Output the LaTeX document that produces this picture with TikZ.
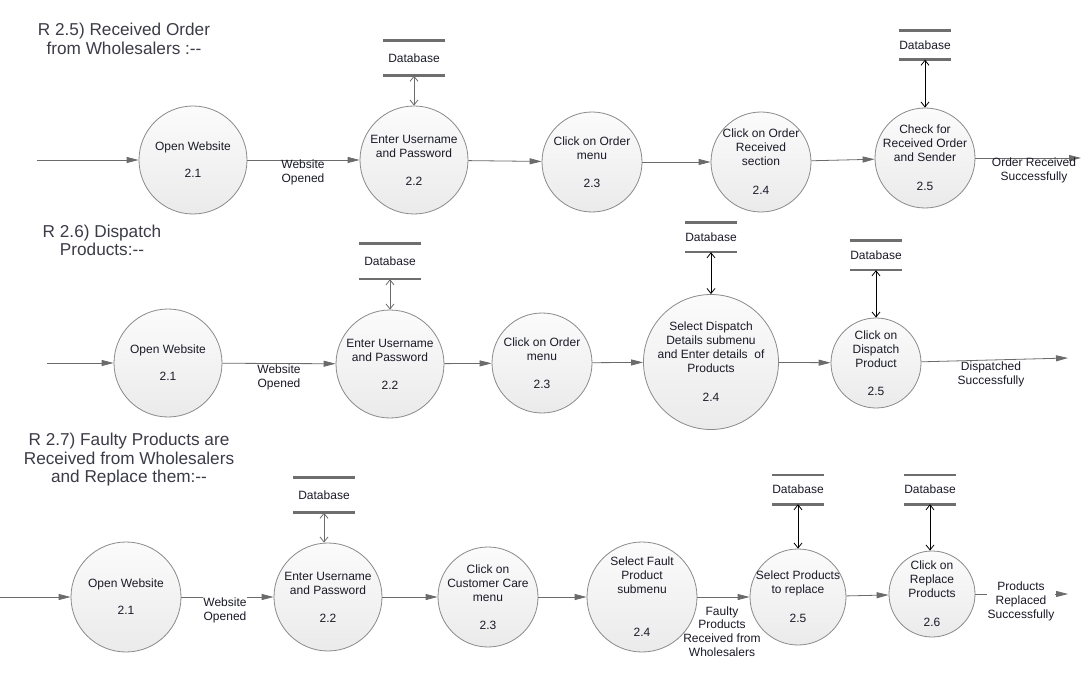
\documentclass[tikz,border=0pt]{standalone}
\usepackage{fontspec}
\setmainfont{Liberation Sans}
\usetikzlibrary{arrows.meta}
\definecolor{txt}{HTML}{1A1A28}
\definecolor{flowc}{HTML}{6B6B6B}
\definecolor{rim}{HTML}{8A8A8A}
\definecolor{barc}{HTML}{6E6E6E}
\begin{document}
\begin{tikzpicture}[x=1pt,y=-1pt,
  proc/.style={circle, draw=rim, line width=0.8pt, top color=gray!3, bottom color=gray!16,
    inner sep=-14pt, align=center, text=txt, font=\fontsize{12}{14}\selectfont},
  title/.style={align=center, text=txt!85, font=\fontsize{17.2}{18.5}\selectfont, inner sep=0pt},
  lab/.style={align=center, text=txt, font=\fontsize{12}{14}\selectfont, inner sep=0.5pt},
  dbbig/.style={minimum width=61pt, minimum height=35pt, inner sep=0pt, text=txt, font=\fontsize{12}{14}\selectfont},
  dbsmall/.style={minimum width=50pt, minimum height=29pt, inner sep=0pt, text=txt, font=\fontsize{12}{14}\selectfont},
  barline/.style={draw=barc, line width=2.6pt},
  flow/.style={draw=flowc, line width=0.8pt, -{Triangle[length=12pt,width=6pt,fill=flowc]}},
  dbarrow/.style={draw=black, line width=0.8pt, {Straight Barb[length=5pt,width=8pt]}-{Straight Barb[length=5pt,width=8pt]}},
  dbarrowg/.style={dbarrow, draw=flowc}
]
\fill[white] (0,0) rectangle (1082,695);
\useasboundingbox (0,0) rectangle (1082,695);

% ---------------- Row 1 ----------------
\node[title] (t1) at (124,39) {R 2.5) Received Order\\from Wholesalers :-{}-};
\node[proc, minimum size=108pt] (c11) at (193,160) {Open Website\\[13pt]2.1};
\node[proc, minimum size=108pt] (c12) at (414,160) {Enter Username\\and Password\\[14pt]2.2};
\node[proc, minimum size=100pt] (c13) at (592,162) {Click on Order\\menu\\[14pt]2.3};
\node[proc, minimum size=100pt] (c14) at (761,162) {Click on Order\\Received\\section\\[15pt]2.4};
\node[proc, minimum size=100pt] (c15) at (925,158) {Check for\\Received Order\\and Sender\\[15pt]2.5};
\node[dbbig] (d11) at (414,58) {Database};
\node[dbsmall] (d12) at (925,45) {Database};
\coordinate (i1) at (37,160);
\coordinate (o1) at (1081,158);
\draw[flow] (i1) -- (c11);
\draw[flow] (c11) -- (c12);
\draw[flow] (c12) -- (c13);
\draw[flow] (c13) -- (c14);
\draw[flow] (c14) -- (c15);
\draw[flow] (c15) -- (o1);
\node[lab] (l11) at (303,172) {Website\\Opened};
\node[lab] (l12) at (1034,170) {Order Received\\Successfully};
\draw[barline] (d11.north west) -- (d11.north east) (d11.south west) -- (d11.south east);
\draw[barline] (d12.north west) -- (d12.north east) (d12.south west) -- (d12.south east);
\draw[dbarrowg] (d11.south) -- (d11.south |- c12.north);
\draw[dbarrow] (d12.south) -- (d12.south |- c15.north);

% ---------------- Row 2 ----------------
\node[title] (t2) at (102,240.5) {R 2.6) Dispatch\\Products:-{}-};
\node[proc, minimum size=108pt] (c21) at (168,363) {Open Website\\[13pt]2.1};
\node[proc, minimum size=108pt] (c22) at (390,364) {Enter Username\\and Password\\[14pt]2.2};
\node[proc, minimum size=100pt] (c23) at (542,363) {Click on Order\\menu\\[14pt]2.3};
\node[proc, minimum size=135pt] (c24) at (711,362) {Select Dispatch\\Details submenu\\and Enter details~ of\\Products\\[15pt]2.4};
\node[proc, minimum size=90pt] (c25) at (876,363) {Click on\\Dispatch\\Product\\[14pt]2.5};
\node[dbbig] (d21) at (390,261.5) {Database};
\node[dbsmall] (d22) at (711,237.5) {Database};
\node[dbsmall] (d23) at (876,255.5) {Database};
\coordinate (i2) at (47,363);
\coordinate (o2) at (1068,358);
\draw[flow] (i2) -- (c21);
\draw[flow] (c21) -- (c22);
\draw[flow] (c22) -- (c23);
\draw[flow] (c23) -- (c24);
\draw[flow] (c24) -- (c25);
\draw[flow] (c25) -- (o2);
\node[lab] (l21) at (279,377) {Website\\Opened};
\node[lab] (l22) at (991,374) {Dispatched\\Successfully};
\draw[barline] (d21.north west) -- (d21.north east) (d21.south west) -- (d21.south east);
\draw[barline] (d22.north west) -- (d22.north east) (d22.south west) -- (d22.south east);
\draw[barline] (d23.north west) -- (d23.north east) (d23.south west) -- (d23.south east);
\draw[dbarrowg] (d21.south) -- (d21.south |- c22.north);
\draw[dbarrow] (d22.south) -- (d22.south |- c24.north);
\draw[dbarrow] (d23.south) -- (d23.south |- c25.north);

% ---------------- Row 3 ----------------
\node[title] (t3) at (129,460) {R 2.7) Faulty Products are\\Received from Wholesalers\\and Replace them:-{}-};
\node[proc, minimum size=110pt] (c31) at (126,597) {Open Website\\[13pt]2.1};
\node[proc, minimum size=108pt] (c32) at (328,597) {Enter Username\\and Password\\[14pt]2.2};
\node[proc, minimum size=100pt] (c33) at (488,597) {Click on\\Customer Care\\menu\\[14pt]2.3};
\node[proc, minimum size=110pt] (c34) at (642,597) {Select Fault\\Product\\submenu\\[29pt]2.4};
\node[proc, minimum size=96pt] (c35) at (798,597) {Select Products\\to replace\\[15pt]2.5};
\node[proc, minimum size=86pt] (c36) at (932,594) {Click on\\Replace\\Products\\[15pt]2.6};
\node[dbbig] (d31) at (324,495) {Database};
\node[dbsmall] (d32) at (798,489.5) {Database};
\node[dbsmall] (d33) at (930,489.5) {Database};
\coordinate (i3) at (0,597);
\coordinate (o3) at (1068,594);
\draw[flow] (i3) -- (c31);
\draw[flow] (c31) -- (c32);
\draw[flow] (c32) -- (c33);
\draw[flow] (c33) -- (c34);
\draw[flow] (c34) -- (c35);
\draw[flow] (c35) -- (c36);
\draw[flow] (c36) -- (o3);
\node[lab, fill=white] (l31) at (225,610) {Website\\Opened};
\node[lab, font=\fontsize{12}{13.7}\selectfont] (l32) at (722,631.5) {Faulty\\Products\\Received from\\Wholesalers};
\node[lab, fill=white] (l33) at (1021,601) {Products\\Replaced\\Successfully};
\draw[barline] (d31.north west) -- (d31.north east) (d31.south west) -- (d31.south east);
\draw[barline] (d32.north west) -- (d32.north east) (d32.south west) -- (d32.south east);
\draw[barline] (d33.north west) -- (d33.north east) (d33.south west) -- (d33.south east);
\draw[dbarrowg] (d31.south) -- (d31.south |- c32.north);
\draw[dbarrow] (d32.south) -- (d32.south |- c35.north);
\draw[dbarrow] (d33.south) -- (d33.south |- c36.north);
\end{tikzpicture}
\end{document}
